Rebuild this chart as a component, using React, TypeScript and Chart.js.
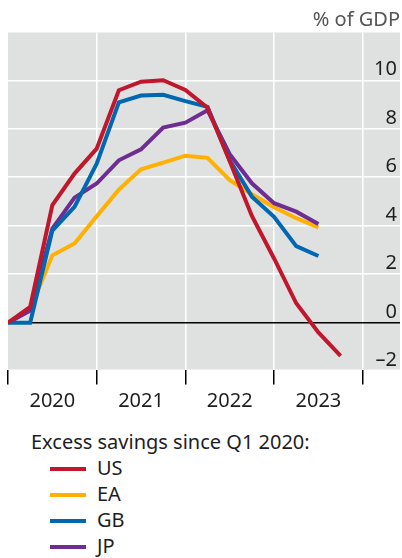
import React, { useEffect, useRef } from 'react';
import { Chart, registerables } from 'chart.js';

Chart.register(...registerables);

// ---- Data ----
const quarters = [
  '2020 Q1', '2020 Q2', '2020 Q3', '2020 Q4',
  '2021 Q1', '2021 Q2', '2021 Q3', '2021 Q4',
  '2022 Q1', '2022 Q2', '2022 Q3', '2022 Q4',
  '2023 Q1', '2023 Q2', '2023 Q3', '2023 Q4',
];
const usValues = [0, 0.65, 4.85, 6.15, 7.18, 9.59, 9.94, 10.0, 9.6, 8.87, 6.66, 4.4, 2.65, 0.8, -0.4, -1.37];
const eaValues = [0, 0.55, 2.78, 3.27, 4.39, 5.49, 6.33, 6.6, 6.89, 6.8, 5.88, 5.3, 4.76, 4.31, 3.93];
const gbValues = [0, 0, 3.8, 4.78, 6.56, 9.09, 9.37, 9.4, 9.14, 8.9, 6.7, 5.2, 4.37, 3.16, 2.75];
const jpValues = [0, 0.5, 3.88, 5.16, 5.74, 6.7, 7.15, 8.05, 8.25, 8.76, 6.95, 5.75, 4.93, 4.58, 4.07];

const seriesNames = ['US', 'EA', 'GB', 'JP'];
const seriesColors = ['#c0172d', '#ffb000', '#0067b1', '#6f2c91'];

const yearTicks = [2020, 2021, 2022, 2023, 2024];
const yearLabels = ['2020', '2021', '2022', '2023', ''];
const yGridValues = [0, 2, 4, 6, 8, 10];
const yTickValues = [-2, 0, 2, 4, 6, 8, 10];
const yTickLabels = ['\u20132', '0', '2', '4', '6', '8', '10'];

const unitLabel = '% of GDP';
const legendTitle = 'Excess savings since Q1 2020:';

const FONT = '"Noto Sans", "Open Sans", sans-serif';

function quarterToX(q: string): number {
  const [y, qq] = q.split(' Q');
  return Number(y) + (Number(qq) - 1) / 4;
}

function toPoints(values: number[]) {
  return values.map((v, i) => ({ x: quarterToX(quarters[i]), y: v }));
}

const areaPlugin = {
  id: 'areaAndLabels',
  beforeDraw(chart: any) {
    const { ctx, chartArea: a } = chart;
    ctx.save();
    ctx.fillStyle = '#dfe0e0';
    ctx.fillRect(a.left, a.top, a.right - a.left, a.bottom - a.top);
    ctx.restore();
  },
  afterDraw(chart: any) {
    const { ctx, chartArea: a } = chart;
    const ys = chart.scales.y;
    ctx.save();
    ctx.font = `20px ${FONT}`;
    ctx.fillStyle = '#1e1e1e';
    ctx.textAlign = 'right';
    ctx.textBaseline = 'alphabetic';
    yTickValues.forEach((v, i) => {
      ctx.fillText(yTickLabels[i], a.right - 3, ys.getPixelForValue(v) - 5);
    });
    ctx.restore();
  },
};

function ChartCanvas() {
  const ref = useRef<HTMLCanvasElement | null>(null);
  useEffect(() => {
    if (!ref.current) return;
    const allValues = [usValues, eaValues, gbValues, jpValues];
    const orders = [0, 3, 1, 2];
    const chart = new Chart(ref.current, {
      type: 'line',
      data: {
        datasets: allValues.map((vals, i) => ({
          label: seriesNames[i],
          data: toPoints(vals),
          borderColor: seriesColors[i],
          backgroundColor: seriesColors[i],
          borderWidth: 4,
          pointRadius: 0,
          tension: 0,
          fill: false,
          order: orders[i],
        })),
      },
      options: {
        animation: false,
        responsive: false,
        maintainAspectRatio: false,
        layout: { padding: { left: 8, right: 2, top: 32.5, bottom: 0 } },
        plugins: {
          legend: { display: false },
          tooltip: { enabled: false },
          title: { display: false },
        },
        scales: {
          x: {
            type: 'linear',
            min: 2020,
            max: 2024.42,
            afterBuildTicks: (s: any) => {
              s.ticks = yearTicks.map((v) => ({ value: v }));
            },
            afterFit: (s: any) => {
              s.height = 50.5;
              s.paddingLeft = 0;
              s.paddingRight = 0;
            },
            border: { display: false },
            grid: {
              color: (c: any) => (c.tick && c.tick.value === 2020 ? 'rgba(0,0,0,0)' : '#ffffff'),
              lineWidth: 1.5,
              drawTicks: true,
              tickLength: 15,
              tickColor: '#000000',
              tickWidth: 1.5,
            },
            ticks: {
              autoSkip: false,
              maxRotation: 0,
              padding: 5,
              labelOffset: 44.35,
              color: '#1e1e1e',
              font: { family: FONT, size: 20 },
              callback: (_v: any, i: number) => yearLabels[i] ?? '',
            },
          },
          y: {
            type: 'linear',
            position: 'right',
            min: -1.93,
            max: 11.97,
            afterBuildTicks: (s: any) => {
              s.ticks = yGridValues.map((v) => ({ value: v }));
            },
            afterFit: (s: any) => {
              s.width = 0;
              s.paddingTop = 0;
              s.paddingBottom = 0;
            },
            border: { display: false },
            grid: {
              color: (c: any) => (c.tick && c.tick.value === 0 ? '#000000' : '#ffffff'),
              lineWidth: 1.5,
              drawTicks: false,
            },
            ticks: { display: false },
          },
        },
      },
      plugins: [areaPlugin],
    });
    return () => chart.destroy();
  }, []);
  return <canvas ref={ref} width={402} height={420} style={{ display: 'block', width: 402, height: 420 }} />;
}

function Legend() {
  return (
    <>
      <div
        style={{
          position: 'absolute', left: 31, top: 428.5, fontSize: 20, lineHeight: '26px',
          fontFamily: FONT, color: '#1e1e1e', whiteSpace: 'nowrap',
        }}
      >
        {legendTitle}
      </div>
      {seriesNames.map((name, i) => (
        <div
          key={name}
          style={{ position: 'absolute', left: 50, top: 455.2 + i * 25.8, height: 26, width: 200 }}
        >
          <div
            style={{
              position: 'absolute', left: 0, top: 12, width: 36, height: 4, background: seriesColors[i],
            }}
          />
          <div
            style={{
              position: 'absolute', left: 47, top: 0, fontSize: 20, lineHeight: '26px',
              fontFamily: FONT, color: '#1e1e1e', whiteSpace: 'nowrap',
            }}
          >
            {name}
          </div>
        </div>
      ))}
    </>
  );
}

export default function App() {
  return (
    <div style={{ position: 'absolute', left: 0, top: 0, width: 402, height: 558, background: '#fff', overflow: 'hidden' }}>
      <ChartCanvas />
      <div
        style={{
          position: 'absolute', right: 2, top: 5.5, fontSize: 20, lineHeight: '26px',
          fontFamily: FONT, color: '#555', whiteSpace: 'nowrap',
        }}
      >
        {unitLabel}
      </div>
      <Legend />
    </div>
  );
}
